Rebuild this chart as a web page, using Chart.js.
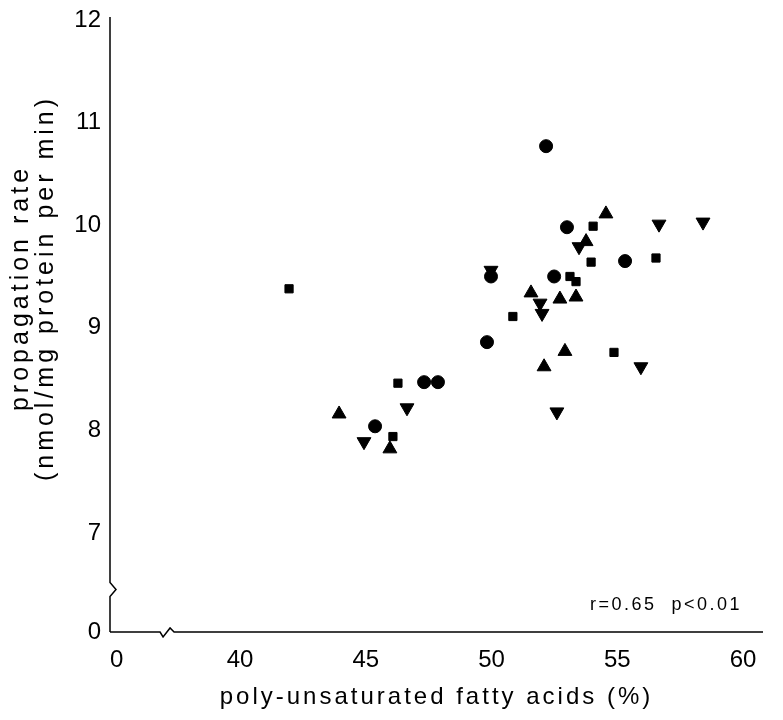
<!DOCTYPE html>
<html>
<head>
<meta charset="utf-8">
<style>
  html, body { margin: 0; padding: 0; background: #ffffff; }
  #wrap { width: 783px; height: 720px; }
</style>
<script src="https://cdn.jsdelivr.net/npm/chart.js@4/dist/chart.umd.min.js"></script>
</head>
<body>
<div id="wrap"><canvas id="c" width="783" height="720"></canvas></div>
<script>
// ---- data ----
const circleX = [45.37, 47.32, 47.87, 49.82, 49.98, 52.17, 53.00, 52.49, 55.31];
const circleY = [8.04, 8.47, 8.47, 8.86, 9.50, 10.77, 9.98, 9.50, 9.65];

const squareX = [41.95, 46.28, 46.08, 50.85, 54.04, 53.96, 53.12, 53.36, 54.87, 56.54];
const squareY = [9.38, 8.46, 7.94, 9.11, 9.99, 9.64, 9.50, 9.45, 8.76, 9.68];

const triUpX = [43.94, 45.96, 51.57, 52.72, 53.36, 52.09, 52.92, 54.55, 53.76];
const triUpY = [8.16, 7.82, 9.34, 9.28, 9.30, 8.62, 8.77, 10.11, 9.84];

const triDownX = [44.93, 46.64, 49.98, 51.93, 52.01, 53.48, 52.60, 55.94, 56.66, 58.41];
const triDownY = [7.89, 8.22, 9.56, 9.24, 9.14, 9.79, 8.18, 8.62, 10.01, 10.03];

// axis ticks (the "0" tick sits before the axis break)
const xTickValues = [35.1, 40, 45, 50, 55, 60];
const xTickLabels = ['0', '40', '45', '50', '55', '60'];
const yTickValues = [6.035, 7, 8, 9, 10, 11, 12];
const yTickLabels = ['0', '7', '8', '9', '10', '11', '12'];

const xTitle = 'poly-unsaturated fatty acids (%)';
const yTitle = ['propagation rate', '(nmol/mg protein per min)'];
const statText = 'r=0.65  p<0.01';

// ---- build ----
function pts(xs, ys) { return xs.map((x, i) => ({ x: x, y: ys[i] })); }

const FONT = '"Liberation Sans", Arial, Helvetica, sans-serif';

const decor = {
  id: 'decor',
  afterDraw(chart) {
    const ctx = chart.ctx;
    const xs = chart.scales.x, ys = chart.scales.y;
    const L = chart.chartArea.left, R = chart.chartArea.right;
    const T = chart.chartArea.top, B = chart.chartArea.bottom;
    ctx.save();
    ctx.strokeStyle = '#000';
    ctx.lineWidth = 1.5;
    // y axis with break
    const yb = ys.getPixelForValue(6.45);
    ctx.beginPath();
    ctx.moveTo(L, B);
    ctx.lineTo(L, yb + 7);
    ctx.lineTo(L + 6, yb);
    ctx.lineTo(L, yb - 7);
    ctx.lineTo(L, T);
    ctx.stroke();
    // x axis with break
    const xb = xs.getPixelForValue(37.1);
    ctx.beginPath();
    ctx.moveTo(L, B);
    ctx.lineTo(xb - 7, B);
    ctx.lineTo(xb - 4, B + 5);
    ctx.lineTo(xb + 3, B - 4);
    ctx.lineTo(xb + 7, B);
    ctx.lineTo(R, B);
    ctx.stroke();

    ctx.fillStyle = '#000';
    ctx.textAlign = 'center';
    ctx.textBaseline = 'middle';
    // x title
    ctx.font = '24px ' + FONT;
    ctx.letterSpacing = '3px';
    ctx.fillText(xTitle, (L + R) / 2, 697);
    // y title (rotated, two lines)
    ctx.save();
    ctx.font = '25px ' + FONT;
    ctx.letterSpacing = '4px';
    ctx.translate(21, 288);
    ctx.rotate(-Math.PI / 2);
    ctx.fillText(yTitle[0], 0, 0);
    ctx.fillText(yTitle[1], 0, 25);
    ctx.restore();
    // statistic text
    ctx.font = '18px ' + FONT;
    ctx.letterSpacing = '2.5px';
    ctx.fillText(statText, xs.getPixelForValue(56.94), ys.getPixelForValue(6.30));
    ctx.restore();
  }
};

const common = { backgroundColor: '#000', borderColor: '#000', borderWidth: 1 };

new Chart(document.getElementById('c'), {
  type: 'scatter',
  data: {
    datasets: [
      Object.assign({ label: 'circle', data: pts(circleX, circleY), pointStyle: 'circle', pointRadius: 6.5 }, common),
      Object.assign({ label: 'square', data: pts(squareX, squareY), pointStyle: 'rect', pointRadius: 5.8 }, common),
      Object.assign({ label: 'triangle', data: pts(triUpX, triUpY), pointStyle: 'triangle', pointRadius: 8 }, common),
      Object.assign({ label: 'inverted triangle', data: pts(triDownX, triDownY), pointStyle: 'triangle', rotation: 180, pointRadius: 8 }, common)
    ]
  },
  options: {
    responsive: false,
    animation: false,
    devicePixelRatio: 1,
    layout: { padding: { left: 0, right: 20, top: 17, bottom: 0 } },
    plugins: { legend: { display: false }, tooltip: { enabled: false } },
    scales: {
      x: {
        type: 'linear',
        min: 34.831, max: 60.795,
        grid: { display: false, drawTicks: false },
        border: { display: false },
        afterBuildTicks: (s) => { s.ticks = xTickValues.map(v => ({ value: v })); },
        afterFit: (s) => { s.height = 88; },
        ticks: {
          color: '#000', padding: 14, maxRotation: 0, autoSkip: false,
          font: { family: FONT, size: 24 },
          callback: (v) => { const i = xTickValues.indexOf(v); return i >= 0 ? xTickLabels[i] : ''; }
        }
      },
      y: {
        type: 'linear',
        min: 6.035, max: 12.029,
        grid: { display: false, drawTicks: false },
        border: { display: false },
        afterBuildTicks: (s) => { s.ticks = yTickValues.map(v => ({ value: v })); },
        afterFit: (s) => { s.width = 110; },
        ticks: {
          color: '#000', padding: 9, autoSkip: false,
          font: { family: FONT, size: 24, lineHeight: 0.5 },
          callback: (v) => { const i = yTickValues.indexOf(v); return i >= 0 ? yTickLabels[i] : ''; }
        }
      }
    }
  },
  plugins: [decor]
});
</script>
</body>
</html>
